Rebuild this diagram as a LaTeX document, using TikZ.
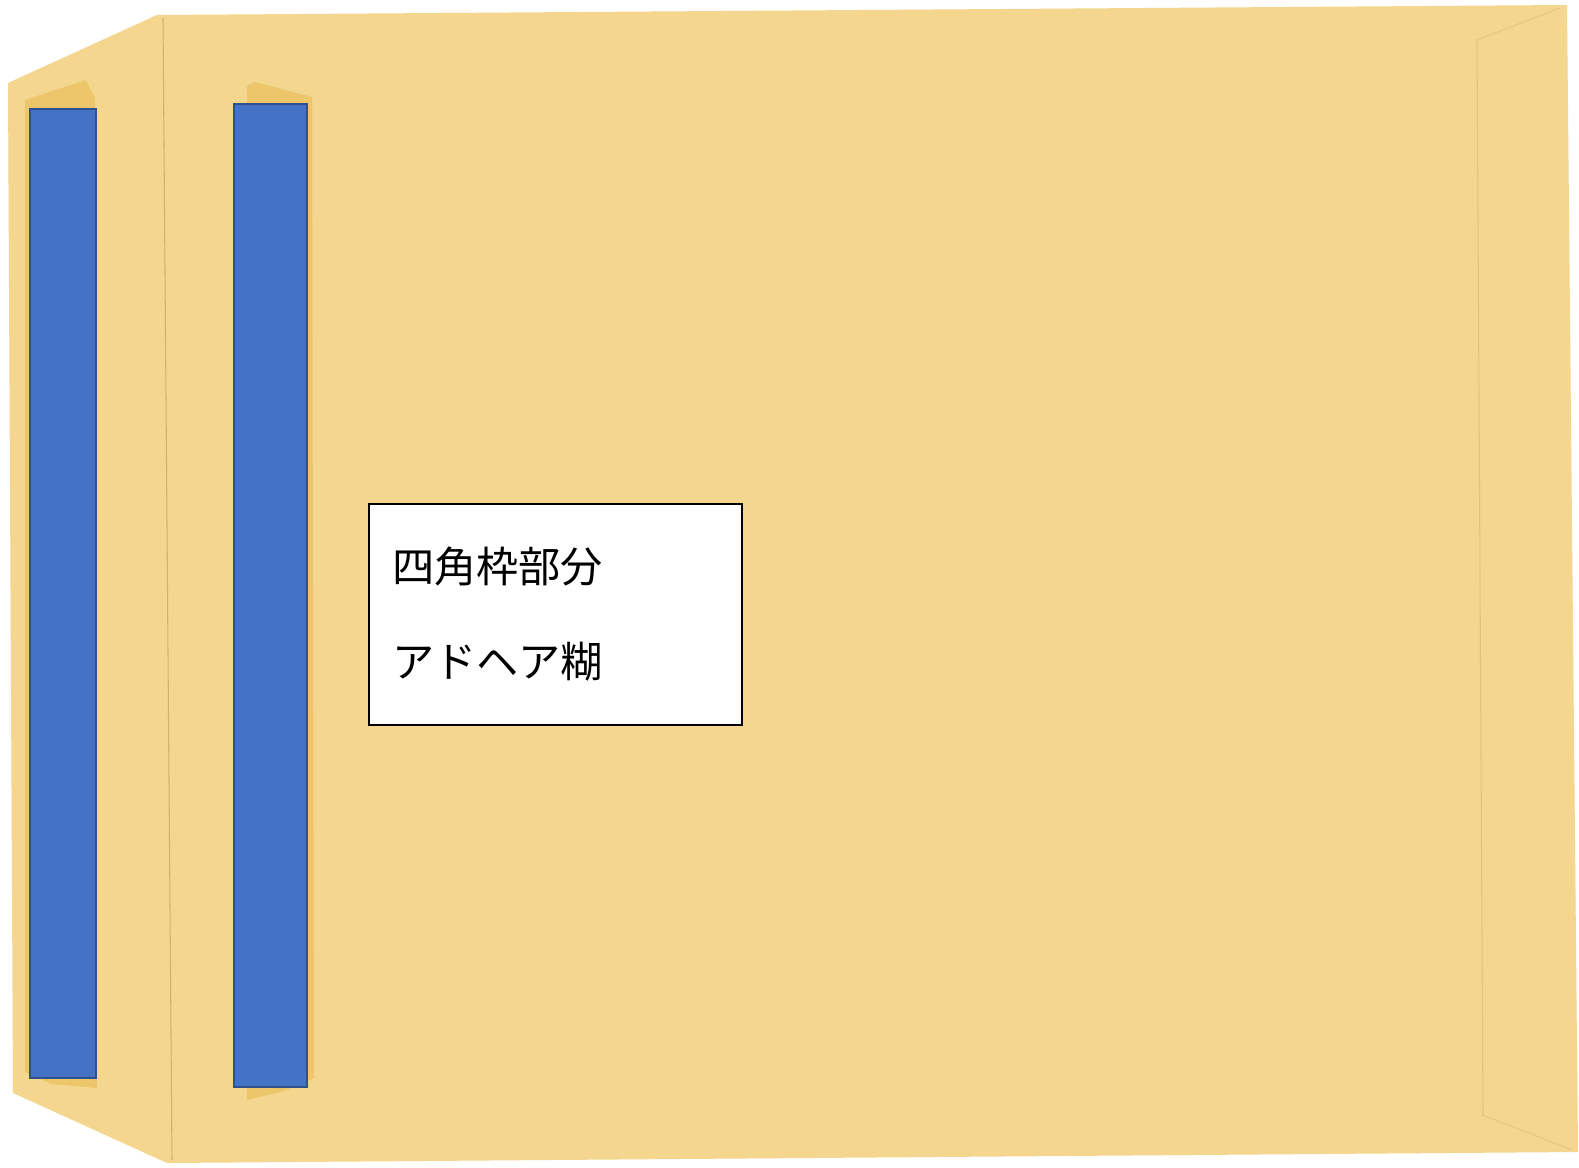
\documentclass[tikz,border=0pt]{standalone}
\usepackage{fontspec}
\newfontfamily\cjk{Noto Sans CJK JP}
\usepackage{tikz}
\usetikzlibrary{positioning}

\definecolor{kraft}{RGB}{244,214,142}
\definecolor{kraftdark}{RGB}{237,197,106}
\definecolor{foldline}{RGB}{214,176,104}
\definecolor{tapeblue}{RGB}{68,114,196}
\definecolor{tapeedge}{RGB}{47,82,143}

\tikzstyle{tape} = [rectangle, fill=tapeblue, draw=tapeedge, line width=1.2pt, inner sep=0pt]
\tikzstyle{notebox} = [rectangle, fill=white, draw=black, line width=0.8pt, minimum width=7.46cm, minimum height=4.42cm, text width=6.54cm, inner xsep=0.46cm, align=left, font=\cjk\fontsize{24}{54}\selectfont]
\tikzstyle{fold} = [draw=foldline, line width=0.6pt]

\begin{document}
\begin{tikzpicture}[x=0.02cm, y=-0.02cm]

\useasboundingbox (0,0) rectangle (1579,1167);
\fill[white] (0,0) rectangle (1579,1167);

% envelope with the flap on the left
\fill[kraft] (157,15) -- (1567,5) -- (1578,1152) -- (167,1163) -- (13,1093) -- (8,83) -- cycle;

% glue shadows
\fill[kraftdark] (25,100) -- (86,80) -- (95,98) -- (97,1088) -- (52,1084) -- (25,1072) -- cycle;
\fill[kraftdark] (247,86) -- (255,82) -- (312,97) -- (314,1078) -- (284,1091) -- (247,1100) -- cycle;

% folds
\draw[fold] (163,18) -- (172,1160);
\draw[fold, draw opacity=0.5] (1477,40) -- (1483,1115);
\draw[fold, draw opacity=0.4] (1477,40) -- (1560,8);
\draw[fold, draw opacity=0.4] (1483,1115) -- (1572,1150);

\node (tapeL) [tape, minimum width=1.32cm, minimum height=19.38cm] at (63,593.5) {};
\node (tapeR) [tape, minimum width=1.46cm, minimum height=19.66cm] at (270.5,595.5) {};

\node (frame) [notebox] at (555.5,614.5) {
四角枠部分\\
アドヘア糊};

\end{tikzpicture}
\end{document}
